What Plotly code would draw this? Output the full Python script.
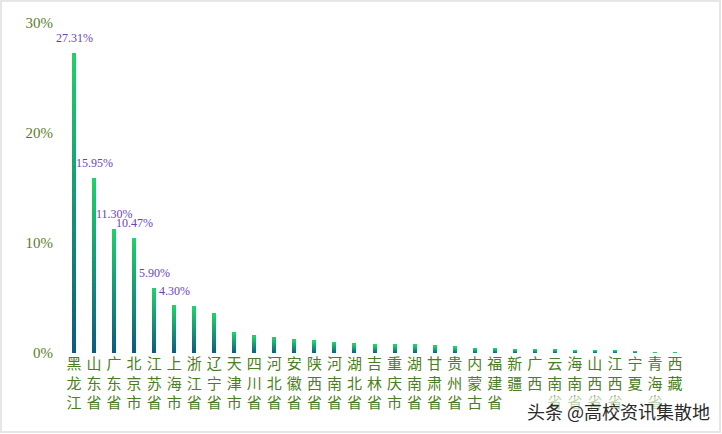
import plotly.graph_objects as go

provinces = ['黑龙江', '山东省', '广东省', '北京市', '江苏省', '上海市', '浙江省', '辽宁省',
             '天津市', '四川省', '河北省', '安徽省', '陕西省', '河南省', '湖北省', '吉林省',
             '重庆市', '湖南省', '甘肃省', '贵州省', '内蒙古', '福建省', '新疆', '广西',
             '云南省', '海南省', '山西省', '江西省', '宁夏', '青海省', '西藏']
values = [27.31, 15.95, 11.30, 10.47, 5.90, 4.30, 4.20, 3.60, 1.90, 1.55, 1.45, 1.20,
          1.10, 1.00, 0.82, 0.73, 0.73, 0.73, 0.64, 0.55, 0.45, 0.45, 0.36, 0.36,
          0.36, 0.27, 0.27, 0.27, 0.18, 0.09, 0.09]
labeled_count = 6
y_ticks = [0, 10, 20, 30]
y_tick_text = ['%d%%' % v for v in y_ticks]

W, H = 722, 434
ML, MR, MT, MB = 64, 37, 23, 81

bottom_rgb = (11, 90, 130)
top_rgb = (30, 211, 106)
K = 40

x_idx = list(range(len(provinces)))
fig = go.Figure()
for k in range(K):
    t = (k + 0.5) / K
    c = tuple(round(bottom_rgb[j] + (top_rgb[j] - bottom_rgb[j]) * t) for j in range(3))
    fig.add_trace(go.Bar(
        x=x_idx, y=[v / K for v in values],
        width=0.2,
        marker=dict(color='rgb(%d,%d,%d)' % c, line=dict(width=0)),
        showlegend=False, hoverinfo='skip',
    ))

for i in range(labeled_count):
    fig.add_annotation(
        x=x_idx[i], y=values[i], text='%.2f%%' % values[i],
        showarrow=False, yshift=15,
        font=dict(family='Liberation Serif', size=12, color='#6c3fb5'),
    )

pw = W - ML - MR
ph = H - MT - MB

fig.add_annotation(
    xref='paper', yref='paper',
    x=(712 - ML) / pw, y=-(411 - (H - MB)) / ph,
    xanchor='right', yanchor='middle',
    text='头条 @高校资讯集散地', showarrow=False,
    font=dict(family='Noto Sans CJK SC', size=18, color='#2a2a2a'),
    bgcolor='rgba(255,255,255,0.65)',
)

fig.add_shape(
    type='rect', xref='paper', yref='paper',
    x0=(1 - ML) / pw, x1=(720 - ML) / pw,
    y0=-(432 - (H - MB)) / ph, y1=(H - MB - 1) / ph,
    line=dict(color='#e6e6e6', width=2), fillcolor='rgba(0,0,0,0)', layer='above',
)

fig.update_layout(
    width=W, height=H,
    margin=dict(l=ML, r=MR, t=MT, b=MB),
    barmode='stack', bargap=0,
    paper_bgcolor='white', plot_bgcolor='white',
    xaxis=dict(
        tickmode='array', tickvals=x_idx,
        ticktext=['<br>'.join(list(p)) for p in provinces],
        range=[-0.5, len(provinces) - 0.5],
        showgrid=False, zeroline=False, showline=False, ticks='',
        tickangle=0,
        tickfont=dict(family='Noto Sans CJK SC', size=15, color='#4b7d22'),
    ),
    yaxis=dict(
        range=[0, 30], tickmode='array', tickvals=y_ticks, ticktext=y_tick_text,
        showgrid=False, zeroline=False, showline=False, ticks='',
        ticklabelstandoff=10,
        tickfont=dict(family='Liberation Serif', size=15, color='#5b7d2b'),
    ),
)

fig.write_html('out.html')
